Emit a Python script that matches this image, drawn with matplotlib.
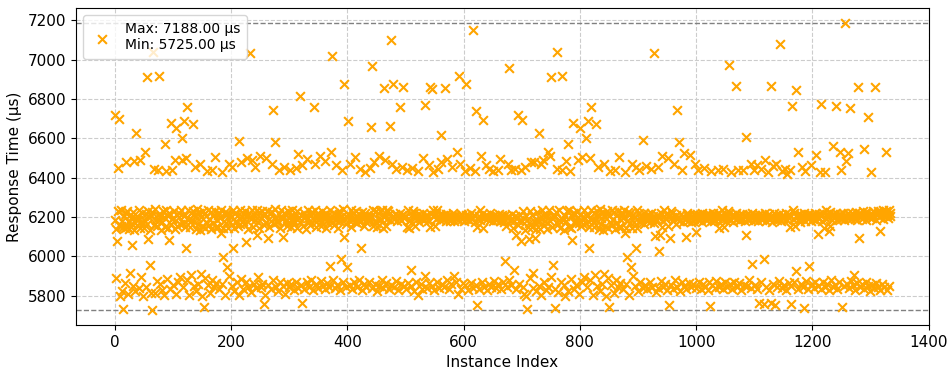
import numpy as np
import matplotlib.pyplot as plt

# response time per instance (µs), in blocks of 100 instances
resp_0000 = [
    6720, 6185, 5892, 6138, 6076, 6450, 6228, 6700, 6160, 5800, 6152, 6236, 5826, 6178, 6148, 5733, 6206, 6144, 5866, 6219,
    6478, 6150, 6232, 5808, 6172, 6140, 5917, 6210, 6196, 6060, 6165, 5848, 6226, 6486, 6134, 5822, 6625, 6192, 6158, 6204,
    6183, 5838, 6238, 6142, 6492, 5896, 6176, 6220, 6168, 5798, 6186, 6146, 6530, 6215, 5845, 6162, 6910, 6230, 6090, 6200,
    5955, 6136, 6205, 5812, 5725, 6226, 7040, 6445, 6160, 5816, 6240, 6185, 6152, 5874, 6212, 6440, 6915, 6186, 5858, 6132,
    6205, 5830, 6172, 6228, 6199, 5804, 6150, 6570, 6234, 6432, 5884, 6144, 6203, 6082, 6218, 5836, 6680, 6166, 6440, 6190,
]
resp_0100 = [
    5852, 6195, 6232, 6488, 6140, 5810, 6650, 6212, 6156, 5868, 6220, 6199, 6162, 5894, 6238, 6490, 6600, 6170, 5845, 6205,
    6690, 6148, 6040, 6500, 5880, 6760, 6234, 6192, 5806, 6174, 6150, 6220, 5906, 6185, 6228, 6670, 5850, 6212, 6452, 6140,
    5826, 6240, 6196, 6166, 5862, 6222, 6136, 6470, 5912, 6200, 6156, 5800, 6230, 5744, 6215, 6146, 5890, 6205, 6436, 6170,
    5852, 6236, 6160, 6192, 5812, 6224, 6138, 6440, 5880, 6168, 6212, 5842, 6232, 6505, 6150, 5866, 6186, 6150, 6208, 6220,
    5835, 6193, 6238, 6120, 6430, 5858, 6144, 5996, 6182, 6226, 5806, 6210, 6168, 6218, 5948, 6142, 6470, 5900, 6208, 6176,
]
resp_0200 = [
    6198, 5850, 6455, 6040, 6236, 6146, 5826, 6222, 6180, 6172, 5868, 6205, 6152, 6585, 5806, 6238, 6166, 6478, 5886, 6200,
    6182, 5832, 6215, 6164, 6230, 5870, 6075, 6208, 6498, 5845, 6140, 6220, 6198, 7035, 6190, 5818, 6234, 6490, 6150, 5862,
    6212, 6186, 6452, 5838, 6236, 6110, 6172, 5896, 6218, 6144, 6510, 5844, 6196, 6228, 5860, 6210, 5760, 6158, 6214, 5804,
    6172, 6500, 6232, 6094, 5852, 6190, 6148, 6218, 5836, 6182, 6470, 6226, 5880, 6745, 6166, 6580, 6240, 5842, 6195, 6176,
    6185, 5825, 6216, 6440, 6142, 5870, 6234, 6200, 6190, 5848, 6098, 6220, 6455, 5808, 6182, 6210, 6156, 5866, 6228, 6176,
]
resp_0300 = [
    5844, 6205, 6438, 6150, 5858, 6236, 6172, 6186, 5830, 6200, 6218, 6450, 5872, 6146, 6230, 5840, 6520, 6194, 6815, 6176,
    5856, 6212, 6462, 5765, 6152, 6220, 5836, 6206, 6202, 6140, 5868, 6495, 6238, 6196, 5846, 6172, 6160, 6208, 5880, 6226,
    6222, 5828, 6760, 6185, 6470, 6234, 5862, 6148, 6215, 6186, 5840, 6196, 6210, 6510, 5876, 6154, 6176, 6232, 5850, 6212,
    6198, 5834, 6484, 6220, 6142, 5866, 6205, 6170, 6190, 5846, 5953, 6236, 6530, 7020, 6176, 5880, 6200, 6158, 6218, 5838,
    6186, 6462, 6208, 5856, 6144, 6230, 6216, 5828, 6180, 5984, 6202, 6440, 5870, 6240, 6098, 6875, 6190, 5845, 6164, 6200,
]
resp_0400 = [
    5945, 6690, 6214, 6186, 6470, 5852, 6236, 6150, 6184, 5836, 6218, 6195, 5868, 6505, 6172, 6232, 5842, 6168, 6200, 6188,
    5878, 6216, 6445, 6040, 6182, 5830, 6226, 6207, 6152, 5858, 6220, 6430, 6176, 5846, 6212, 6194, 6198, 5872, 6185, 6448,
    6205, 6655, 5838, 6965, 6152, 6236, 6480, 5862, 6180, 6230, 6170, 5826, 6148, 6192, 6510, 5850, 6186, 6232, 6188, 5880,
    6238, 6146, 5840, 6855, 6200, 6490, 6156, 5866, 6188, 6236, 6228, 5834, 6216, 6660, 6184, 7100, 5856, 6470, 6875, 6205,
    5842, 6190, 6214, 6442, 5874, 6182, 6208, 6204, 5830, 6196, 6220, 6760, 5860, 6186, 6452, 6210, 6860, 5848, 6195, 6198,
]
resp_0500 = [
    6205, 5836, 6150, 6440, 6236, 5864, 6180, 6142, 6185, 5850, 5933, 6210, 6450, 6230, 5826, 6218, 6154, 6206, 5870, 6202,
    6190, 6436, 5806, 6214, 6176, 6194, 5858, 6206, 6195, 5832, 6500, 6220, 6186, 5902, 6770, 6200, 6210, 5840, 6212, 6182,
    6462, 5866, 6860, 6148, 6216, 6850, 5848, 6234, 6430, 6205, 5830, 6152, 6190, 6218, 5872, 6238, 6445, 6200, 5838, 6214,
    6184, 6478, 6615, 5860, 6208, 6190, 6204, 5846, 6855, 6216, 6180, 6495, 5878, 6198, 6212, 5834, 6180, 6186, 6204, 5862,
    6455, 6192, 6220, 5898, 6178, 6200, 6210, 5870, 6196, 6530, 6185, 5808, 6915, 6206, 6468, 5836, 6215, 6188, 6212, 5866,
]
resp_0600 = [
    6200, 6178, 6436, 5852, 6875, 6212, 6190, 6204, 5828, 6205, 6184, 6450, 5864, 6218, 6196, 6188, 7150, 5840, 6208, 6176,
    6432, 5856, 6740, 5755, 6150, 6190, 6206, 5834, 6236, 6186, 6510, 5870, 6216, 6695, 6144, 6194, 5846, 6198, 6210, 6462,
    5830, 6192, 6206, 6445, 5862, 6184, 6218, 6200, 5844, 6200, 6178, 6432, 5876, 6212, 6194, 6186, 5838, 6205, 6188, 6440,
    5858, 6216, 6182, 6495, 5832, 6200, 6208, 6186, 5868, 6190, 6176, 5975, 6212, 6152, 5846, 6196, 6470, 6205, 5880, 6955,
    6184, 6440, 5852, 6214, 6190, 6146, 5933, 6178, 6206, 6446, 5836, 6110, 6198, 6160, 6720, 5862, 6180, 6212, 6438, 6077,
]
resp_0700 = [
    6695, 6178, 5846, 6228, 5808, 6455, 6135, 6204, 5800, 5732, 6185, 6150, 6170, 6090, 5892, 6230, 6478, 6150, 6208, 5838,
    5916, 6182, 6480, 6095, 6140, 5824, 6226, 6186, 6176, 5848, 6625, 6194, 6140, 6470, 5806, 6236, 6212, 6490, 6160, 5870,
    6180, 6210, 5828, 6204, 6138, 6530, 5844, 6238, 6182, 6512, 5896, 6910, 6196, 6148, 5958, 6200, 6208, 5834, 5738, 6226,
    7040, 6445, 6162, 5818, 6234, 6184, 6144, 5872, 6196, 6440, 6915, 6186, 5856, 6132, 6205, 5800, 6482, 6180, 6228, 5826,
    6570, 6150, 6236, 6432, 5886, 6146, 6203, 6085, 6218, 6680, 5836, 6215, 6170, 6172, 5852, 6195, 6232, 6488, 5810, 6170,
]
resp_0800 = [
    6650, 6212, 6156, 5868, 6505, 6199, 6162, 5894, 6238, 6196, 6600, 6170, 5845, 6205, 6690, 6148, 6040, 6500, 5880, 6760,
    6234, 6192, 5806, 6174, 6150, 6220, 5906, 6185, 6670, 6228, 5850, 6212, 6452, 6140, 5826, 6240, 6196, 6166, 5862, 6222,
    6136, 6470, 5912, 6200, 6156, 5800, 6230, 6215, 6146, 5890, 6205, 5745, 6436, 6170, 5852, 6236, 6160, 6192, 5812, 6224,
    6138, 6440, 5880, 6168, 6212, 5842, 6232, 6505, 6150, 5866, 6186, 6150, 6208, 6220, 5835, 6193, 6238, 6120, 6430, 5858,
    6144, 5996, 6182, 6226, 5806, 6210, 6168, 6218, 5948, 6142, 6470, 5900, 6208, 6176, 6198, 5850, 6455, 6040, 6236, 6146,
]
resp_0900 = [
    5826, 6222, 6440, 6172, 5868, 6205, 6190, 6198, 5840, 6590, 6218, 6166, 5856, 6200, 6460, 6182, 5832, 6215, 6194, 6206,
    5870, 6176, 6220, 6445, 6190, 5845, 6205, 7035, 6170, 6103, 6184, 5818, 6212, 6186, 6452, 5838, 6200, 6025, 6110, 5876,
    6218, 6148, 6510, 5844, 6236, 6207, 5860, 6194, 6188, 6214, 5828, 6152, 6500, 5755, 6205, 6094, 5852, 6230, 6202, 6218,
    5836, 6182, 6470, 6200, 5880, 6166, 6212, 5842, 6745, 6195, 6580, 6182, 5825, 6185, 6216, 5870, 6440, 6204, 6172, 5848,
    6525, 6190, 6098, 5832, 6220, 6208, 6182, 5866, 6210, 6198, 6515, 5844, 6176, 6205, 6180, 5858, 6214, 6188, 6470, 6122,
]
resp_1000 = [
    5840, 6200, 6216, 6440, 6184, 5872, 6208, 6192, 6198, 5836, 6218, 6176, 5862, 6204, 6450, 6190, 5846, 6212, 6186, 6216,
    5830, 6198, 6214, 5868, 5750, 6180, 6436, 6206, 5852, 6220, 6190, 6182, 5838, 6184, 6210, 5876, 6196, 6440, 6218, 5844,
    6142, 6202, 6208, 5860, 6236, 6188, 5832, 6445, 6150, 6216, 5870, 6182, 6196, 6208, 5846, 6232, 6220, 6970, 5858, 6186,
    6430, 6212, 5836, 6198, 6176, 6204, 5872, 6205, 6218, 6865, 5842, 6190, 6440, 6210, 5864, 6184, 6200, 6192, 5830, 6216,
    6192, 6438, 5856, 6206, 6180, 6110, 6605, 5848, 6214, 6196, 6186, 5878, 6208, 6188, 6470, 5840, 6220, 5963, 6200, 6184,
]
resp_1100 = [
    6440, 5852, 6212, 6190, 6466, 5836, 6204, 6178, 6216, 5764, 6198, 6445, 5868, 6210, 6186, 6200, 5989, 5760, 6220, 6492,
    6182, 5846, 6206, 6194, 6430, 5830, 6214, 6188, 6865, 5762, 6200, 6176, 6458, 5860, 6218, 6192, 5755, 6208, 6470, 6184,
    5842, 6202, 6216, 5874, 7080, 6190, 6178, 6436, 5838, 6212, 6196, 5856, 6204, 6445, 6222, 5828, 6186, 6420, 6200, 5866,
    6214, 6148, 6440, 5848, 5760, 6765, 6236, 6192, 5872, 6218, 6152, 6845, 5924, 6200, 6212, 6532, 5836, 6190, 6176, 6216,
    5858, 6204, 6452, 6194, 5844, 6220, 5740, 6182, 6435, 5876, 6210, 6198, 6188, 5832, 6216, 5953, 6202, 6180, 6462, 5862,
]
resp_1200 = [
    6212, 6190, 5840, 6206, 6222, 5868, 6186, 6515, 6200, 5850, 6112, 6216, 6194, 6430, 5836, 6775, 6208, 6182, 5872, 6220,
    6146, 5846, 6430, 6238, 6188, 5860, 6216, 6200, 5830, 6128, 6224, 6154, 5878, 6206, 6184, 5842, 6560, 6214, 6198, 5856,
    6765, 6220, 6186, 5834, 6208, 6196, 5870, 6529, 6214, 6190, 6440, 5745, 6222, 6202, 5848, 6184, 7188, 6210, 6486, 5862,
    6196, 6218, 6525, 5838, 6205, 6755, 6188, 5874, 6222, 6200, 5852, 5904, 6212, 6192, 5830, 6226, 6186, 5866, 6208, 6860,
    6095, 6220, 5844, 6198, 6214, 5858, 6190, 6228, 5836, 6546, 6206, 6218, 5872, 6184, 6224, 5848, 6710, 6200, 6212, 5826,
]
resp_1300 = [
    6216, 6427, 6194, 5854, 6230, 6208, 5838, 6860, 6222, 6186, 5866, 6214, 6232, 5846, 6200, 6220, 6128, 5830, 6226, 6210,
    5860, 6192, 6234, 6218, 5842, 6204, 6532, 6228, 5828, 6212, 6196, 6236, 5850, 6220, 6206,
]

response_us = np.array(resp_0000 + resp_0100 + resp_0200 + resp_0300 + resp_0400 + resp_0500 +
                       resp_0600 + resp_0700 + resp_0800 + resp_0900 + resp_1000 + resp_1100 +
                       resp_1200 + resp_1300)
index = np.arange(len(response_us))

max_rt = response_us.max()
min_rt = response_us.min()

fig = plt.figure(figsize=(9.49, 3.70), dpi=100)
ax = fig.add_axes([0.080, 0.122, 0.899, 0.856])

ax.scatter(index, response_us, marker="x", color="orange", s=40, linewidths=1.5,
           label=f"Max: {max_rt:.2f} µs\nMin: {min_rt:.2f} µs", zorder=3)
ax.axhline(max_rt, color="gray", linestyle="--", linewidth=1.0)
ax.axhline(min_rt, color="gray", linestyle="--", linewidth=1.0)

ax.set_xticks(np.arange(0, 1401, 200))
ax.set_yticks(np.arange(5800, 7201, 200))
ax.tick_params(labelsize=11)
ax.set_xlabel("Instance Index", fontsize=11)
ax.set_ylabel("Response Time (µs)", fontsize=11)
ax.grid(True, linestyle="--", color="#cccccc", linewidth=0.8)
ax.set_axisbelow(True)
ax.legend(loc="upper left", fontsize=10, handlelength=1.8, handletextpad=0.7, borderpad=0.5)

fig.savefig("out.png", dpi=100)
